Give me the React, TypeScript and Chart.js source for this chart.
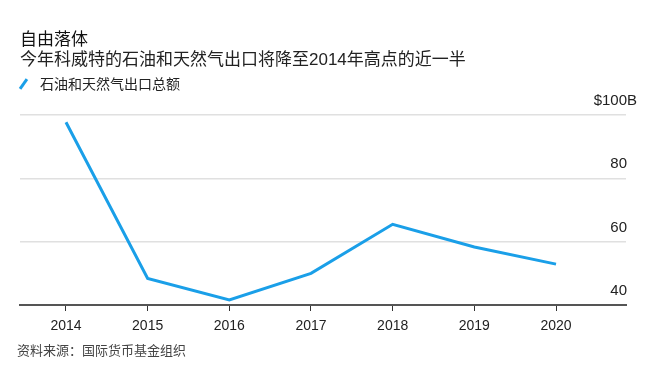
import React, { useEffect, useRef } from "react";
import { Chart, registerables } from "chart.js";

Chart.register(...registerables);

const years = [2014, 2015, 2016, 2017, 2018, 2019, 2020];
const exportsTotal = [97.7, 48.4, 41.6, 50.0, 65.5, 58.3, 52.9];
const yTickValues = [40, 60, 80, 100];
const yTickLabels = ["40", "60", "80", "$100B"];
const titleText = "自由落体";
const subtitleText = "今年科威特的石油和天然气出口将降至2014年高点的近一半";
const legendText = "石油和天然气出口总额";
const sourceText = "资料来源：国际货币基金组织";

const LINE_COLOR = "#1a9fe8";
const FONT = "'Liberation Sans', Arial, 'Noto Sans CJK SC', sans-serif";

const yLabelPlugin = {
  id: "yLabelPlugin",
  afterDraw(chart: any) {
    const { ctx, chartArea, scales } = chart;
    const y = scales.y;
    ctx.save();
    ctx.font = `15px ${FONT}`;
    ctx.fillStyle = "#222";
    ctx.textBaseline = "middle";
    yTickValues.forEach((v, i) => {
      const label = yTickLabels[i];
      const py = y.getPixelForValue(v) - 14;
      let x = chartArea.right + 1;
      if (label.endsWith("B")) {
        x += ctx.measureText("B").width;
      }
      ctx.textAlign = "right";
      ctx.fillText(label, x, py);
    });
    ctx.restore();
  },
};

export default function App() {
  const ref = useRef<HTMLCanvasElement | null>(null);

  useEffect(() => {
    if (!ref.current) return;
    const chart = new Chart(ref.current, {
      type: "line",
      data: {
        datasets: [
          {
            label: legendText,
            data: years.map((yr, i) => ({ x: yr, y: exportsTotal[i] })),
            borderColor: LINE_COLOR,
            borderWidth: 3,
            pointRadius: 0,
            tension: 0,
            fill: false,
          },
        ],
      },
      options: {
        animation: false,
        responsive: false,
        maintainAspectRatio: false,
        layout: { padding: { left: 20, right: 28, top: 115, bottom: 33 } },
        plugins: {
          legend: { display: false },
          title: { display: false },
          tooltip: { enabled: false },
        },
        scales: {
          x: {
            type: "linear",
            min: 2013.437,
            max: 2020.857,
            afterBuildTicks: (scale: any) => {
              scale.ticks = years.map((v) => ({ value: v }));
            },
            afterFit: (scale: any) => {
              scale.height = 30;
            },
            ticks: {
              callback: (v: any) => String(v),
              color: "#222",
              font: { family: FONT, size: 14 },
              padding: 7,
              maxRotation: 0,
              autoSkip: false,
            },
            grid: {
              display: true,
              drawOnChartArea: false,
              drawTicks: true,
              tickLength: 6,
              color: "#333",
              lineWidth: 1,
            },
            border: { display: true, color: "#555", width: 2 },
          },
          y: {
            type: "linear",
            position: "right",
            min: 40,
            max: 100,
            afterBuildTicks: (scale: any) => {
              scale.ticks = yTickValues.map((v) => ({ value: v }));
            },
            afterFit: (scale: any) => {
              scale.width = 0;
            },
            ticks: { display: false },
            grid: {
              display: true,
              drawTicks: false,
              color: "#e0e0e0",
              lineWidth: 1.5,
            },
            border: { display: false },
          },
        },
      },
      plugins: [yLabelPlugin],
    } as any);
    return () => chart.destroy();
  }, []);

  return (
    <div
      style={{
        position: "absolute",
        left: 0,
        top: 0,
        width: 654,
        height: 368,
        background: "#fff",
        fontFamily: FONT,
        overflow: "hidden",
      }}
    >
      <canvas
        ref={ref}
        width={654}
        height={368}
        style={{ position: "absolute", left: 0, top: 0, width: 654, height: 368 }}
      />
      <div
        style={{
          position: "absolute",
          left: 20,
          top: 30,
          fontSize: 17,
          lineHeight: "20px",
          color: "#111",
          whiteSpace: "nowrap",
        }}
      >
        {titleText}
      </div>
      <div
        style={{
          position: "absolute",
          left: 20,
          top: 50,
          fontSize: 17,
          lineHeight: "20px",
          color: "#222",
          whiteSpace: "nowrap",
        }}
      >
        {subtitleText}
      </div>
      <div
        style={{
          position: "absolute",
          left: 22,
          top: 78,
          width: 3,
          height: 12,
          background: LINE_COLOR,
          transform: "rotate(35deg)",
        }}
      />
      <div
        style={{
          position: "absolute",
          left: 40,
          top: 76,
          fontSize: 14,
          lineHeight: "16px",
          color: "#222",
          whiteSpace: "nowrap",
        }}
      >
        {legendText}
      </div>
      <div
        style={{
          position: "absolute",
          left: 17,
          top: 343,
          fontSize: 13,
          lineHeight: "15px",
          color: "#444",
          whiteSpace: "nowrap",
        }}
      >
        {sourceText}
      </div>
    </div>
  );
}
